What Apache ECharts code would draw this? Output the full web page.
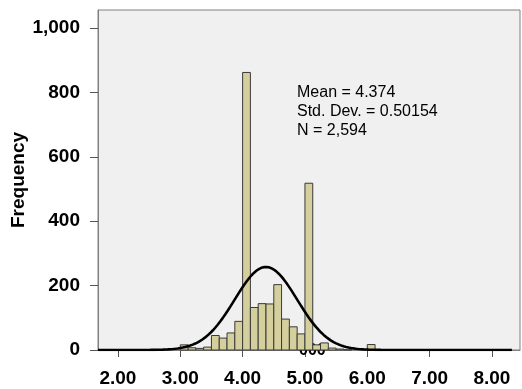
<!DOCTYPE html>
<html>
<head>
<meta charset="utf-8">
<script src="https://cdn.jsdelivr.net/npm/echarts@6/dist/echarts.min.js"></script>
<style>
  html, body { margin: 0; padding: 0; background: #ffffff; }
  #chart { width: 522px; height: 389px; }
</style>
</head>
<body>
<div id="chart"></div>
<script>
// histogram bins (lower edge) and counts, bin width 0.125
var binStarts = [3.000, 3.125, 3.250, 3.375, 3.500, 3.625, 3.750, 3.875,
                 4.000, 4.125, 4.250, 4.375, 4.500, 4.625, 4.750, 4.875,
                 5.000, 5.125, 5.250, 5.375, 5.500, 5.625, 6.000];
var counts = [16, 7, 5, 9, 45, 37, 53, 89,
              862, 132, 144, 143, 203, 96, 72, 50,
              518, 16, 22, 6, 3, 1, 17];
var binWidth = 0.125;

var xTicks = [2, 3, 4, 5, 6, 7, 8];
var yTicks = [0, 200, 400, 600, 800, 1000];

// stats shown on the chart
var mean = 4.374;
var stdDev = 0.50154;
var nTotal = 2594;

var bars = binStarts.map(function (s, i) { return [s, s + binWidth, counts[i]]; });

// normal curve scaled to the histogram (N * width * pdf)
var curve = [];
for (var x = 1.68; x <= 8.32; x += 0.02) {
    var z = (x - mean) / stdDev;
    curve.push([x, nTotal * binWidth * Math.exp(-0.5 * z * z) / (stdDev * Math.sqrt(2 * Math.PI))]);
}

var chart = echarts.init(document.getElementById('chart'));

var option = {
    animation: false,
    grid: {
        left: 98, right: 2, top: 10, bottom: 39,
        outerBoundsMode: 'none',
        containLabel: false,
        show: true,
        backgroundColor: '#f0f0f0',
        borderColor: '#808080',
        borderWidth: 1
    },
    xAxis: {
        type: 'value',
        min: 1.68,
        max: 8.45,
        axisLine: { lineStyle: { color: '#808080', width: 1 } },
        axisTick: { show: true, customValues: xTicks, length: 7, lineStyle: { color: '#555' } },
        axisLabel: {
            customValues: xTicks,
            margin: 19,
            color: '#000',
            fontFamily: 'Liberation Sans',
            fontWeight: 'bold',
            fontSize: 19,
            formatter: function (v) { return v.toFixed(2); }
        },
        splitLine: { show: false }
    },
    yAxis: {
        type: 'value',
        min: 0,
        max: 1056,
        name: 'Frequency',
        nameLocation: 'middle',
        nameRotate: 90,
        nameGap: 70,
        nameMoveOverlap: false,
        nameTextStyle: { color: '#000', fontFamily: 'Liberation Sans', fontWeight: 'bold', fontSize: 19 },
        axisLine: { show: true, lineStyle: { color: '#808080', width: 1 } },
        axisTick: { show: true, customValues: yTicks, length: 8, lineStyle: { color: '#555' } },
        axisLabel: {
            customValues: yTicks,
            margin: 18,
            color: '#000',
            fontFamily: 'Liberation Sans',
            fontWeight: 'bold',
            fontSize: 19,
            formatter: function (v) { return v.toLocaleString('en-US'); }
        },
        splitLine: { show: false }
    },
    graphic: [
        {
            type: 'text', z: 1, left: 299, top: 343,
            style: { text: '000', fill: '#000', font: 'bold 16px "Liberation Sans"' }
        },
        {
            type: 'text', z: 10, left: 297, top: 83,
            style: {
                text: 'Mean = ' + mean + '\nStd. Dev. = ' + stdDev + '\nN = ' + nTotal.toLocaleString('en-US'),
                fill: '#000',
                font: '16px "Liberation Sans"',
                lineHeight: 19
            }
        }
    ],
    series: [
        {
            type: 'custom',
            z: 2,
            data: bars,
            renderItem: function (params, api) {
                var p0 = api.coord([api.value(0), api.value(2)]);
                var p1 = api.coord([api.value(1), 0]);
                return {
                    type: 'rect',
                    shape: { x: p0[0], y: p0[1], width: p1[0] - p0[0], height: p1[1] - p0[1] },
                    style: { fill: '#d4cf9c', stroke: '#3a3a3a', lineWidth: 1 }
                };
            }
        },
        {
            type: 'line',
            z: 3,
            data: curve,
            showSymbol: false,
            smooth: false,
            lineStyle: { color: '#000', width: 2.6 }
        }
    ]
};

chart.setOption(option);
</script>
</body>
</html>
